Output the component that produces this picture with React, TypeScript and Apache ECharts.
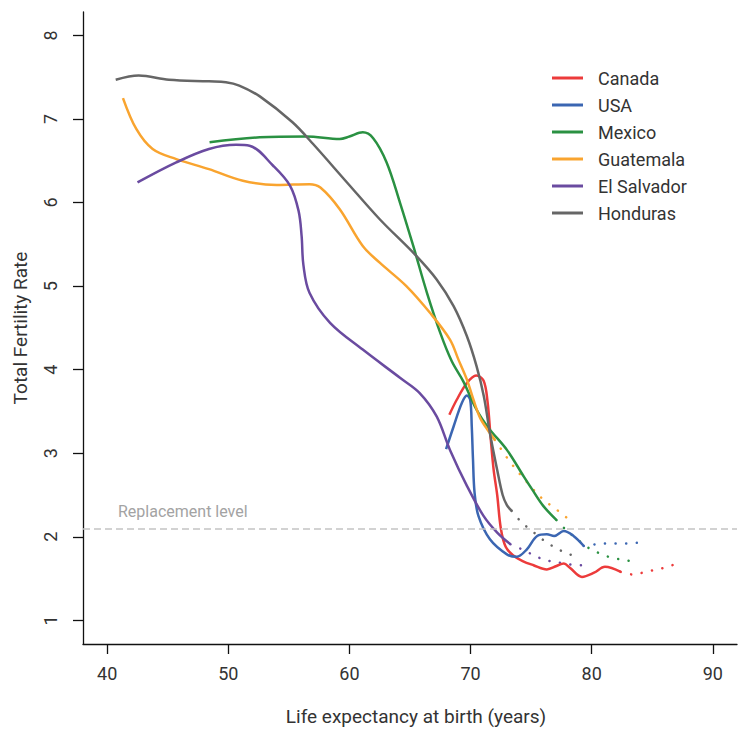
import React, { useEffect, useRef } from "react";
import * as echarts from "echarts";

const xTicks = [40, 50, 60, 70, 80, 90];
const yTicks = [1, 2, 3, 4, 5, 6, 7, 8];
const replacementLevel = 2.1;

const canadaSolid: [number, number][] = [
  [68.25, 3.46], [68.86, 3.64], [69.7, 3.84], [70.46, 3.93], [71.07, 3.87], [71.4, 3.62],
  [71.65, 3.2], [71.9, 2.81], [72.2, 2.5], [72.5, 2.1], [72.9, 1.88], [73.5, 1.78],
  [74.3, 1.71], [75.2, 1.66], [76.3, 1.61], [77.1, 1.65], [77.7, 1.68], [78.2, 1.63],
  [79.2, 1.52], [80.2, 1.57], [81.1, 1.64], [82.4, 1.58],
];
const canadaProj: [number, number][] = [
  [82.4, 1.58], [83.3, 1.55], [84.2, 1.57], [85.1, 1.6], [86.0, 1.63], [86.85, 1.67],
];

const usaSolid: [number, number][] = [
  [67.98, 3.05], [68.6, 3.32], [69.28, 3.6], [69.7, 3.69], [69.97, 3.64], [70.1, 3.32],
  [70.2, 2.93], [70.33, 2.53], [70.65, 2.25], [71.6, 1.97], [73.0, 1.79], [73.8, 1.76],
  [74.65, 1.85], [75.5, 2.01], [76.3, 2.03], [76.9, 2.01], [77.7, 2.07], [78.5, 2.01],
  [79.35, 1.89],
];
const usaProj: [number, number][] = [
  [79.35, 1.89], [80.3, 1.91], [81.2, 1.92], [82.1, 1.92], [83.0, 1.92], [83.9, 1.93],
];

const mexicoSolid: [number, number][] = [
  [48.45, 6.72], [52.6, 6.78], [56.45, 6.79], [59.2, 6.76], [60.0, 6.79], [61.1, 6.84],
  [61.96, 6.77], [63.07, 6.48], [64.17, 6.0], [65.27, 5.48], [66.4, 4.92], [67.5, 4.44],
  [68.45, 4.1], [69.4, 3.86], [70.5, 3.52], [71.5, 3.3], [73.0, 3.04], [74.4, 2.72],
  [75.07, 2.57], [76.0, 2.37], [77.1, 2.2],
];
const mexicoProj: [number, number][] = [
  [77.1, 2.2], [77.75, 2.1], [78.3, 2.03], [78.9, 1.96], [79.5, 1.89], [80.2, 1.83],
  [80.9, 1.79], [81.6, 1.75], [82.4, 1.73], [83.15, 1.71],
];

const guatemalaSolid: [number, number][] = [
  [41.3, 7.25], [42.4, 6.88], [43.75, 6.64], [45.7, 6.52], [48.4, 6.4], [51.2, 6.26],
  [54.0, 6.21], [56.7, 6.22], [57.6, 6.18], [59.2, 5.92], [61.1, 5.48], [62.5, 5.28],
  [64.7, 5.0], [66.65, 4.68], [68.3, 4.36], [69.0, 4.12], [69.7, 3.88], [70.24, 3.64],
  [70.8, 3.42], [71.5, 3.26], [72.0, 3.16],
];
const guatemalaProj: [number, number][] = [
  [72.0, 3.16], [72.8, 2.99], [73.3, 2.89], [73.9, 2.78], [74.5, 2.68], [75.6, 2.5],
  [76.4, 2.4], [77.06, 2.33], [77.75, 2.25], [78.5, 2.17],
];

const elSalvadorSolid: [number, number][] = [
  [42.5, 6.24], [45.7, 6.48], [48.4, 6.64], [50.65, 6.69], [51.75, 6.68], [53.7, 6.44],
  [55.1, 6.2], [55.8, 5.9], [56.05, 5.6], [56.2, 5.25], [56.7, 4.92], [58.4, 4.56],
  [61.1, 4.24], [64.2, 3.9], [65.8, 3.72], [67.2, 3.44], [68.3, 3.04], [69.7, 2.61],
  [71.07, 2.25], [72.2, 2.05], [73.3, 1.91],
];
const elSalvadorProj: [number, number][] = [
  [73.3, 1.91], [74.4, 1.84], [75.2, 1.78], [76.0, 1.73], [76.9, 1.7], [77.8, 1.68],
  [78.7, 1.66], [79.6, 1.66],
];

const hondurasSolid: [number, number][] = [
  [40.7, 7.47], [42.6, 7.52], [45.1, 7.47], [48.4, 7.45], [49.8, 7.44], [50.9, 7.4],
  [52.6, 7.27], [55.3, 6.96], [57.0, 6.7], [59.8, 6.24], [62.5, 5.8], [65.4, 5.38],
  [67.2, 5.08], [68.6, 4.76], [69.7, 4.4], [70.5, 4.04], [71.1, 3.68], [71.6, 3.24],
  [72.2, 2.8], [72.65, 2.5], [73.0, 2.38], [73.4, 2.31],
];
const hondurasProj: [number, number][] = [
  [73.4, 2.31], [74.1, 2.19], [74.8, 2.1], [75.5, 2.02], [76.2, 1.94], [77.0, 1.87],
  [77.8, 1.81], [78.6, 1.77],
];

const countryNames = ["Canada", "USA", "Mexico", "Guatemala", "El Salvador", "Honduras"];
const countryColors = ["#ec3b3b", "#3b66b2", "#2a9142", "#f9a42f", "#6a4ba0", "#666666"];
const solidData = [canadaSolid, usaSolid, mexicoSolid, guatemalaSolid, elSalvadorSolid, hondurasSolid];
const projData = [canadaProj, usaProj, mexicoProj, guatemalaProj, elSalvadorProj, hondurasProj];

const FONT = "Roboto, 'Noto Sans', sans-serif";

export default function App() {
  const ref = useRef<HTMLDivElement>(null);
  useEffect(() => {
    if (!ref.current) return;
    const chart = echarts.init(ref.current, undefined, { renderer: "svg" });
    const series: any[] = [];
    countryNames.forEach((name, i) => {
      series.push({
        name,
        type: "line",
        data: solidData[i],
        smooth: 0.35,
        showSymbol: false,
        symbol: "none",
        lineStyle: { width: 2.5, color: countryColors[i] },
        itemStyle: { color: countryColors[i] },
        z: 3,
        ...(i === 0
          ? {
              markLine: {
                silent: true,
                symbol: ["none", "none"],
                lineStyle: { color: "#c4c4c4", type: [7, 4], width: 1.5 },
                label: {
                  show: true,
                  position: "insideStartTop",
                  formatter: "Replacement level",
                  color: "#a3a3a3",
                  fontSize: 16,
                  fontFamily: FONT,
                  distance: [35, 9],
                },
                data: [{ yAxis: replacementLevel }],
              },
            }
          : {}),
      });
      series.push({
        name: name + " (projection)",
        type: "line",
        data: projData[i],
        smooth: 0.3,
        showSymbol: false,
        symbol: "none",
        lineStyle: { width: 2.5, color: countryColors[i], type: [0.1, 10.5], cap: "round" },
        itemStyle: { color: countryColors[i] },
        z: 2,
      });
    });
    chart.setOption({
      animation: false,
      backgroundColor: "#ffffff",
      grid: { left: 83, right: 6, top: 12, bottom: 88 },
      legend: {
        data: countryNames.map((n) => ({ name: n, icon: "rect" })),
        orient: "vertical",
        left: 547,
        top: 63,
        itemWidth: 31,
        itemHeight: 3,
        itemGap: 7,
        selectedMode: false,
        textStyle: {
          fontSize: 18,
          lineHeight: 20,
          color: "#333333",
          fontFamily: FONT,
          padding: [0, 0, 0, 10],
        },
      },
      xAxis: {
        type: "value",
        min: 38,
        max: 92,
        name: "Life expectancy at birth (years)",
        nameLocation: "middle",
        nameGap: 63,
        nameTextStyle: { fontSize: 19, color: "#333333", fontFamily: FONT, padding: [0, 0, 0, 12] },
        axisLine: { show: true, onZero: false, lineStyle: { color: "#111111", width: 1.3 } },
        axisTick: { show: true, length: 10, customValues: xTicks, lineStyle: { color: "#111111", width: 1.3 } },
        axisLabel: { customValues: xTicks, margin: 20, fontSize: 18, color: "#333333", fontFamily: FONT },
        splitLine: { show: false },
      },
      yAxis: {
        type: "value",
        min: 0.717,
        max: 8.28,
        name: "Total Fertility Rate",
        nameLocation: "middle",
        nameGap: 53,
        nameRotate: 90,
        nameTextStyle: { fontSize: 19, color: "#333333", fontFamily: FONT },
        axisLine: { show: true, onZero: false, lineStyle: { color: "#111111", width: 1.3 } },
        axisTick: { show: true, length: 10, customValues: yTicks, lineStyle: { color: "#111111", width: 1.3 } },
        axisLabel: { customValues: yTicks, rotate: 90, margin: 24, fontSize: 18, color: "#333333", fontFamily: FONT },
        splitLine: { show: false },
      },
      series,
    });
    return () => chart.dispose();
  }, []);
  return (
    <div
      ref={ref}
      style={{ position: "fixed", left: 0, top: 0, width: 743, height: 732, background: "#fff" }}
    />
  );
}
